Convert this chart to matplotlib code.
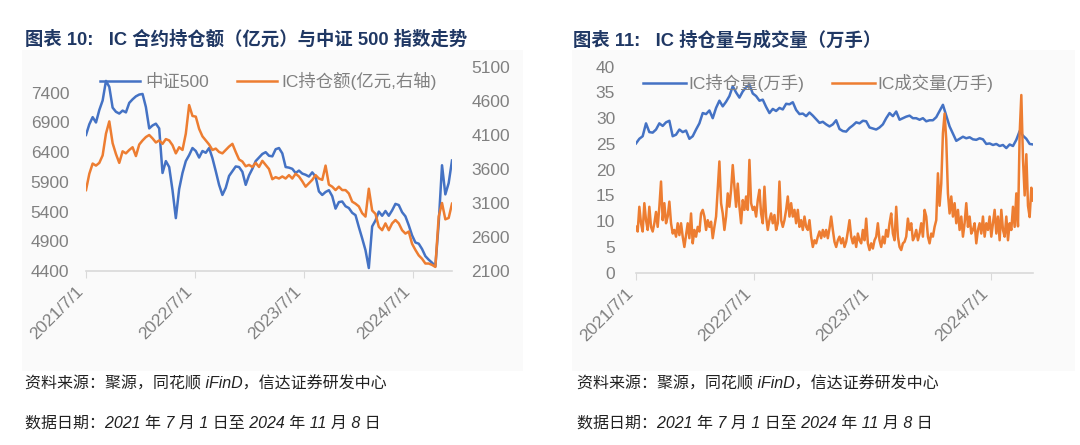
import numpy as np
import pandas as pd
import matplotlib
matplotlib.use("Agg")
import matplotlib.pyplot as plt
from matplotlib.patches import Rectangle

plt.rcParams["font.family"] = ["Liberation Sans", "Noto Sans CJK SC", "DejaVu Sans"]

START = "2021-07-01"
END = "2024-11-08"

# 中证500 (left axis), evenly spread over the period
csi500 = [6690, 6870, 6990, 6900, 7110, 7270, 7600, 7500, 7150, 7080,
          7050, 7100, 7070, 7230, 7290, 7340, 7370, 7380, 7160, 6800,
          6850, 6880, 6800, 6050, 6250, 6150, 5760, 5290, 5780, 6050,
          6250, 6350, 6470, 6420, 6310, 6420, 6390, 6470, 6300, 6080,
          5850, 5680, 5800, 6000, 6080, 6160, 6150, 6070, 5850, 6010,
          6120, 6250, 6310, 6370, 6400, 6340, 6330, 6450, 6470, 6380,
          6150, 6140, 6120, 6050, 6090, 6040, 6020, 5990, 6060, 5990,
          5740, 5680, 5730, 5760, 5660, 5450, 5560, 5570, 5490, 5460,
          5380, 5340, 5140, 4950, 4750, 4450, 5150, 5250, 5400, 5330,
          5410, 5330, 5420, 5530, 5510, 5390, 5320, 5170, 5000, 4880,
          4860, 4770, 4650, 4590, 4540, 4480, 5200, 6180, 5690, 5880,
          6260]

# IC持仓额 (亿元, right axis)
ic_amount = [3290, 3530, 3680, 3650, 3690, 3800, 4120, 4300, 3980, 3820,
             3690, 3860, 3830, 3880, 3920, 3790, 3960, 4020, 4070, 4100,
             4050, 3990, 4020, 3970, 4040, 4020, 3950, 3830, 3920, 3880,
             4120, 4540, 4380, 4370, 4190, 4080, 4020, 3960, 3880, 3900,
             3850, 3830, 3880, 3930, 3970, 3850, 3740, 3710, 3640, 3660,
             3630, 3690, 3630, 3720, 3660, 3600, 3450, 3480, 3460, 3490,
             3460, 3510, 3460, 3530, 3490, 3420, 3340, 3390, 3440, 3510,
             3460, 3440, 3650, 3370, 3340, 3290, 3340, 3290, 3290, 3240,
             3120, 3090, 3050, 2950, 2900, 3310, 2990, 2940, 2750, 2700,
             2800, 2700, 2800, 2850, 2800, 2700, 2650, 2680, 2500, 2410,
             2330, 2280, 2210, 2210, 2190, 2160, 2900, 3100, 2860, 2880,
             3090]

# IC持仓量 (万手)
ic_oi = [25.1, 26.0, 26.5, 29.0, 27.3, 27.2, 27.8, 29.0, 28.5, 29.2,
         29.5, 26.5, 26.8, 27.8, 27.3, 27.6, 26.0, 26.5, 27.8, 29.0,
         31.0, 30.8, 31.5, 30.0, 32.0, 33.4, 32.3, 33.2, 34.3, 36.2,
         35.0, 34.0, 35.2, 36.0, 36.5, 34.8, 34.3, 33.4, 33.6, 32.2,
         31.0, 31.8, 31.4, 32.0, 31.7, 32.8, 32.7, 33.1, 31.6, 30.8,
         30.9, 30.4, 31.1, 30.5, 29.8, 29.1, 29.3, 28.8, 28.4, 28.8,
         29.6, 27.9, 27.5, 27.4, 28.1, 28.6, 29.2, 29.0, 29.5, 29.4,
         28.2, 28.0, 27.8, 28.2, 28.8, 30.0, 31.0, 30.4, 31.3, 29.7,
         30.0, 30.3, 30.5, 30.0, 30.0, 29.7, 30.0, 29.4, 29.6, 29.6,
         30.2, 31.4, 32.6, 30.5, 28.4, 27.0, 25.6, 26.0, 26.4, 26.1,
         26.3, 25.9, 25.8, 26.1, 25.9, 25.0, 25.1, 24.8, 25.0, 24.6,
         24.8, 24.2, 24.9, 24.6, 25.8, 27.5, 26.6, 26.0, 25.0, 24.9]

# IC成交量 (万手)
ic_volume = [8.9, 8.0, 12.8,
             9.6, 8.0, 13.5, 10.2, 8.3, 12.8, 8.9, 8.0, 9.6, 11.8,
             8.9, 12.8, 17.7, 10.2, 13.5, 9.6, 10.9, 13.8, 9.6, 7.6,
             8.3, 7.0, 9.6, 7.3, 9.6, 7.0, 5.0, 7.3, 9.6, 6.7,
             11.5, 5.7, 8.3, 7.0, 8.9, 8.0, 11.5, 12.2, 10.9, 8.3,
             10.2, 8.9, 9.9, 6.7, 8.9, 10.9, 16.1, 21.6, 13.5, 11.5,
             8.3, 10.9, 15.4, 12.8, 16.1, 20.9, 16.7, 12.8, 17.3, 12.8,
             9.6, 14.1, 12.2, 14.8, 12.2, 21.9, 13.5, 12.2, 12.8, 10.9,
             14.1, 16.1, 11.5, 9.6, 16.7, 10.9, 8.3, 10.2, 11.5, 9.6,
             11.2, 8.3, 9.6, 17.7, 10.2, 8.9, 10.2, 12.2, 14.8, 10.9,
             13.5, 10.9, 12.2, 9.6, 12.2, 8.9, 10.2, 8.3, 10.9, 8.9,
             8.3, 10.2, 7.0, 5.0, 6.3, 5.7, 7.0, 8.0, 6.7, 8.3,
             7.0, 8.3, 6.7, 8.6, 10.9, 8.3, 6.0, 5.0, 6.3, 7.0,
             5.7, 6.7, 5.0, 6.0, 8.0, 10.2, 7.0, 5.7, 7.0, 5.0,
             7.6, 6.3, 5.7, 8.3, 6.3, 10.5, 5.7, 4.4, 5.7, 4.7,
             6.3, 7.0, 9.6, 6.3, 5.0, 7.0, 5.7, 8.3, 7.0, 9.6,
             11.5, 7.6, 6.3, 12.8, 7.0, 5.0, 4.4, 5.7, 6.0, 7.0,
             10.5, 8.3, 9.6, 6.3, 7.0, 8.3, 6.3, 7.6, 9.6, 7.0,
             12.2, 10.9, 7.0, 5.7, 7.6, 7.0, 8.9, 10.2, 19.3, 13.0,
             17.3, 27.1, 30.9, 25.8, 15.4, 11.5, 14.8, 10.9, 13.5, 9.6,
             12.2, 8.3, 10.9, 7.0, 9.6, 13.5, 8.9, 10.9, 7.6, 8.3,
             9.6, 5.7, 8.3, 9.6, 7.6, 10.9, 7.0, 9.6, 8.3, 10.9,
             7.0, 9.6, 12.2, 7.6, 10.9, 6.3, 12.2, 8.3, 7.0, 10.9,
             6.3, 9.6, 8.3, 12.8, 8.9, 15.4,
             9.0, 27.0, 34.5, 22.0, 15.0, 23.0, 13.0, 10.8, 16.5, 14.0]

tick_dates = ["2021-07-01", "2022-07-01", "2023-07-01", "2024-07-01"]
tick_labels = ["2021/7/1", "2022/7/1", "2023/7/1", "2024/7/1"]

BLUE = "#4472C4"
ORANGE = "#ED7D31"
GRAY = "#808080"
NAVY = "#203864"
FS = 12.5
LW = 1.8


def dates_for(vals):
    return pd.date_range(START, END, periods=len(vals))


def style_axis(ax):
    for s in ["top", "left", "right"]:
        ax.spines[s].set_visible(False)
    ax.spines["bottom"].set_color("#D9D9D9")
    ax.spines["bottom"].set_linewidth(1.2)
    ax.patch.set_visible(False)
    ax.set_xlim(pd.Timestamp(START), pd.Timestamp(END))
    ax.set_xticks(pd.to_datetime(tick_dates))
    ax.set_xticklabels(tick_labels, rotation=45, ha="right", va="top")
    ax.tick_params(axis="x", length=5, color="#D9D9D9", labelsize=FS,
                   labelcolor=GRAY, pad=4)
    ax.tick_params(axis="y", length=0, labelsize=FS, labelcolor=GRAY, pad=12)


fig = plt.figure(figsize=(10.8, 4.45), dpi=100)

# chart area backgrounds
for x0, x1 in [(22, 523), (572, 1075)]:
    fig.patches.append(Rectangle((x0 / 1080, 1 - 371 / 445), (x1 - x0) / 1080, 321 / 445,
                                 transform=fig.transFigure, facecolor="#FAFAFA",
                                 edgecolor="none", zorder=-5))

# ---- left chart ----
ax1 = fig.add_axes([86 / 1080, 1 - 271 / 445, 366 / 1080, 204 / 445])
ax2 = ax1.twinx()
l1, = ax1.plot(dates_for(csi500), csi500, color=BLUE, lw=LW, label="中证500")
l2, = ax2.plot(dates_for(ic_amount), ic_amount, color=ORANGE, lw=LW,
               label="IC持仓额(亿元,右轴)")
style_axis(ax1)
style_axis(ax2)
ax2.spines["bottom"].set_visible(False)
ax2.tick_params(axis="x", length=0)
ax2.tick_params(axis="y", pad=14)
ax1.set_ylim(4400, 7834)
ax1.set_yticks(np.arange(4400, 7401, 500))
ax2.set_ylim(2100, 5100)
ax2.set_yticks(np.arange(2100, 5101, 500))
fig.legend([l1, l2], [l1.get_label(), l2.get_label()], loc="center left",
           bbox_to_anchor=(100 / 1080, 1 - 81 / 445), ncol=2, frameon=False,
           fontsize=FS, labelcolor=GRAY, handlelength=2.3, handletextpad=0.3,
           columnspacing=1.6, borderaxespad=0, borderpad=0)

# ---- right chart ----
ax3 = fig.add_axes([636 / 1080, 1 - 272.7 / 445, 397 / 1080, 206 / 445])
l3, = ax3.plot(dates_for(ic_oi), ic_oi, color=BLUE, lw=LW, label="IC持仓量(万手)")
l4, = ax3.plot(dates_for(ic_volume), ic_volume, color=ORANGE, lw=LW,
               label="IC成交量(万手)")
style_axis(ax3)
ax3.tick_params(axis="y", pad=15)
ax3.set_ylim(0, 40)
ax3.set_yticks(np.arange(0, 41, 5))
fig.legend([l3, l4], [l3.get_label(), l4.get_label()], loc="center left",
           bbox_to_anchor=(643 / 1080, 1 - 83 / 445), ncol=2, frameon=False,
           fontsize=FS, labelcolor=GRAY, handlelength=2.5, handletextpad=0.1,
           columnspacing=1.6, borderaxespad=0, borderpad=0)

# ---- titles and notes ----
fig.text(25 / 1080, 1 - 40 / 445, "图表 10:   IC 合约持仓额（亿元）与中证 500 指数走势",
         fontsize=13.2, fontweight="bold", color=NAVY, va="center", ha="left")
fig.text(573 / 1080, 1 - 40 / 445, "图表 11:   IC 持仓量与成交量（万手）",
         fontsize=13.2, fontweight="bold", color=NAVY, va="center", ha="left")
for x in (25, 577):
    fig.text(x / 1080, 1 - 384 / 445, "资料来源：聚源，同花顺 iFinD，信达证券研发中心",
             fontsize=11.5, style="italic", color="#222222", va="center", ha="left")
    fig.text(x / 1080, 1 - 423 / 445, "数据日期：2021 年 7 月 1 日至 2024 年 11 月 8 日",
             fontsize=11.5, style="italic", color="#222222", va="center", ha="left")

fig.savefig("out.png", dpi=100, facecolor="white")
plt.close(fig)
